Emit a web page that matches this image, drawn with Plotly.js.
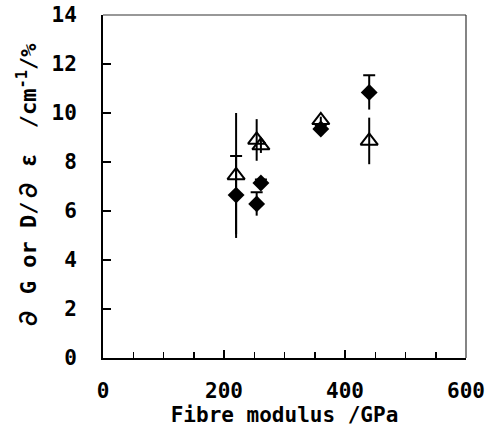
<!DOCTYPE html>
<html>
<head>
<meta charset="utf-8">
<script src="https://cdn.plot.ly/plotly-3.0.1.min.js"></script>
<style>html,body{margin:0;padding:0;background:#fff;}#chart{width:485px;height:441px;}</style>
</head>
<body>
<div id="chart"></div>
<script>
// Data
const xTri = [220, 254, 261, 360, 440];
const yTri = [7.45, 8.9, 8.67, 9.7, 8.86];
const errTri = [2.55, 0.85, 0.3, 0.15, 0.95];

const xDia = [220, 254, 261, 360, 440];
const yDia = [6.65, 6.29, 7.14, 9.35, 10.84];
const errDia = [1.6, 0.48, 0.15, 0.15, 0.7];

const xTickVals = [0, 200, 400, 600];
const yTickVals = [0, 2, 4, 6, 8, 10, 12, 14];

const zeros = xDia.map(() => 0);
const fontFam = '"DejaVu Sans Mono", "Liberation Mono", monospace';
const cjk = 'font-family:Noto Sans CJK JP';

const traces = [
  {
    x: xDia, y: yDia, mode: 'markers', type: 'scatter', showlegend: false,
    marker: {color: 'rgba(0,0,0,0)', size: 1},
    error_y: {type: 'data', symmetric: false, array: zeros, arrayminus: errDia,
              color: '#000', thickness: 2, width: 0},
    hoverinfo: 'skip'
  },
  {
    x: xTri, y: yTri, mode: 'markers', type: 'scatter', showlegend: false,
    marker: {symbol: 'triangle-up-open', size: 15, color: '#000', line: {width: 2, color: '#000'}},
    error_y: {type: 'data', array: errTri, color: '#000', thickness: 2, width: 0}
  },
  {
    x: xDia, y: yDia, mode: 'markers', type: 'scatter', showlegend: false,
    marker: {symbol: 'diamond', size: 13, color: '#000'},
    error_y: {type: 'data', symmetric: false, array: errDia, arrayminus: zeros,
              color: '#000', thickness: 2, width: 6}
  }
];

const yTitle = '<span style="' + cjk + '">∂</span> G or D/<span style="' + cjk + '">∂</span> <span style="' + cjk + '">ε</span>  /cm<sup>-1</sup>/%';

const layout = {
  width: 485, height: 441,
  margin: {l: 103, r: 19, t: 15, b: 83},
  paper_bgcolor: '#fff', plot_bgcolor: '#fff',
  font: {family: fontFam, color: '#000', size: 20, weight: 'bold'},
  xaxis: {
    range: [0, 600], tickvals: xTickVals, ticktext: xTickVals.map(String),
    ticks: 'inside', ticklen: 8, tickwidth: 1.5, tickcolor: '#000',
    minor: {dtick: 50, ticks: 'inside', ticklen: 6, tickwidth: 1.5, tickcolor: '#000'},
    showline: true, linewidth: 2, linecolor: '#000', showgrid: false, zeroline: false,
    ticklabelstandoff: 13,
    tickfont: {family: fontFam, size: 21, weight: 'bold'},
    title: {text: 'Fibre modulus /GPa', font: {family: fontFam, size: 21, weight: 'bold'}, standoff: 2}
  },
  yaxis: {
    range: [0, 14], tickvals: yTickVals, ticktext: yTickVals.map(String),
    ticks: 'inside', ticklen: 8, tickwidth: 1.5, tickcolor: '#000',
    showline: true, linewidth: 2, linecolor: '#000', showgrid: false, zeroline: false,
    ticklabelstandoff: 20,
    tickfont: {family: fontFam, size: 21, weight: 'bold'},
    title: {text: yTitle, font: {family: fontFam, size: 22, weight: 'bold'}, standoff: 9}
  },
  shapes: [
    {type: 'line', xref: 'paper', yref: 'paper', x0: 0, x1: 1, y0: 1, y1: 1, line: {color: '#333', width: 1.2}},
    {type: 'line', xref: 'paper', yref: 'paper', x0: 1, x1: 1, y0: 0, y1: 1, line: {color: '#333', width: 1.2}}
  ]
};

Plotly.newPlot('chart', traces, layout, {displayModeBar: false, staticPlot: true});
</script>
</body>
</html>
